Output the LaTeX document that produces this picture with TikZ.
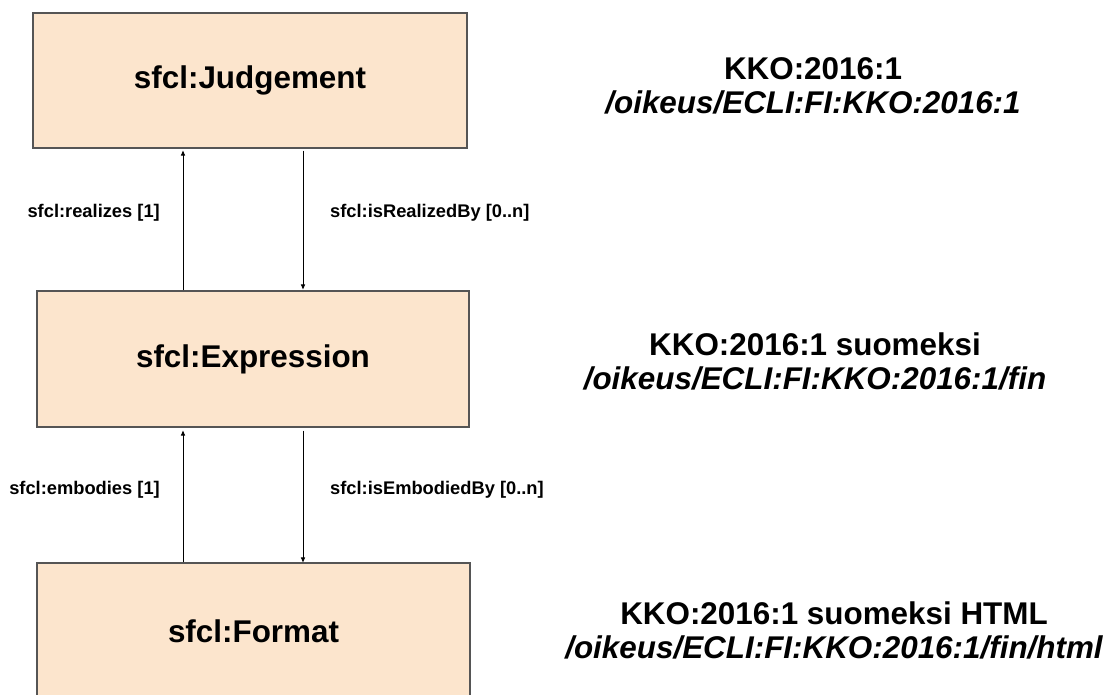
\documentclass[tikz,border=0pt]{standalone}
\usepackage{fontspec}
\setmainfont{Liberation Sans}
\usetikzlibrary{arrows.meta}
\definecolor{boxfill}{HTML}{FCE5CD}
\definecolor{boxline}{HTML}{555555}
\begin{document}
\begin{tikzpicture}[x=1pt,y=-1pt,
  cls/.style={draw=boxline, line width=1.1pt, fill=boxfill, inner sep=0pt,
    font=\bfseries\fontsize{31.4}{36}\selectfont},
  rel/.style={font=\bfseries\fontsize{18.3}{22}\selectfont, inner sep=0pt},
  info/.style={align=center, inner sep=0pt, font=\bfseries\fontsize{31.4}{34}\selectfont},
  arr/.style={line width=0.9pt, -{Triangle[length=5pt,width=4pt]}}]
\useasboundingbox (0,0) rectangle (1110,695);
\clip (0,0) rectangle (1110,695);
\node[cls, minimum width=434, minimum height=135] (J) at (250,80.5) {sfcl:Judgement};
\node[cls, minimum width=432, minimum height=136] (E) at (253,359) {sfcl:Expression};
\node[cls, minimum width=433, minimum height=136] (F) at (253.5,631) {sfcl:Format};
\coordinate (ux) at (183,0);
\coordinate (dx) at (303,0);
\draw[arr, shorten >=2pt] (E.north -| ux) -- (J.south -| ux);
\draw[arr, shorten <=2pt, shorten >=1pt] (J.south -| dx) -- (E.north -| dx);
\draw[arr, shorten >=3pt] (F.north -| ux) -- (E.south -| ux);
\draw[arr, shorten <=3pt] (E.south -| dx) -- (F.north -| dx);
\node[rel, anchor=east] (l1) at (160,213) {sfcl:realizes [1]};
\node[rel, anchor=west] (l2) at (330,213) {sfcl:isRealizedBy [0..n]};
\node[rel, anchor=east] (l3) at (160,490) {sfcl:embodies [1]};
\node[rel, anchor=west] (l4) at (330,490) {sfcl:isEmbodiedBy [0..n]};
\node[info] (t1) at (813,86) {KKO:2016:1\\{\itshape /oikeus/ECLI:FI:KKO:2016:1}};
\node[info] (t2) at (815,361) {KKO:2016:1 suomeksi\\{\itshape /oikeus/ECLI:FI:KKO:2016:1/fin}};
\node[info] (t3) at (834,630) {KKO:2016:1 suomeksi HTML\\{\itshape /oikeus/ECLI:FI:KKO:2016:1/fin/html}};
\end{tikzpicture}
\end{document}
